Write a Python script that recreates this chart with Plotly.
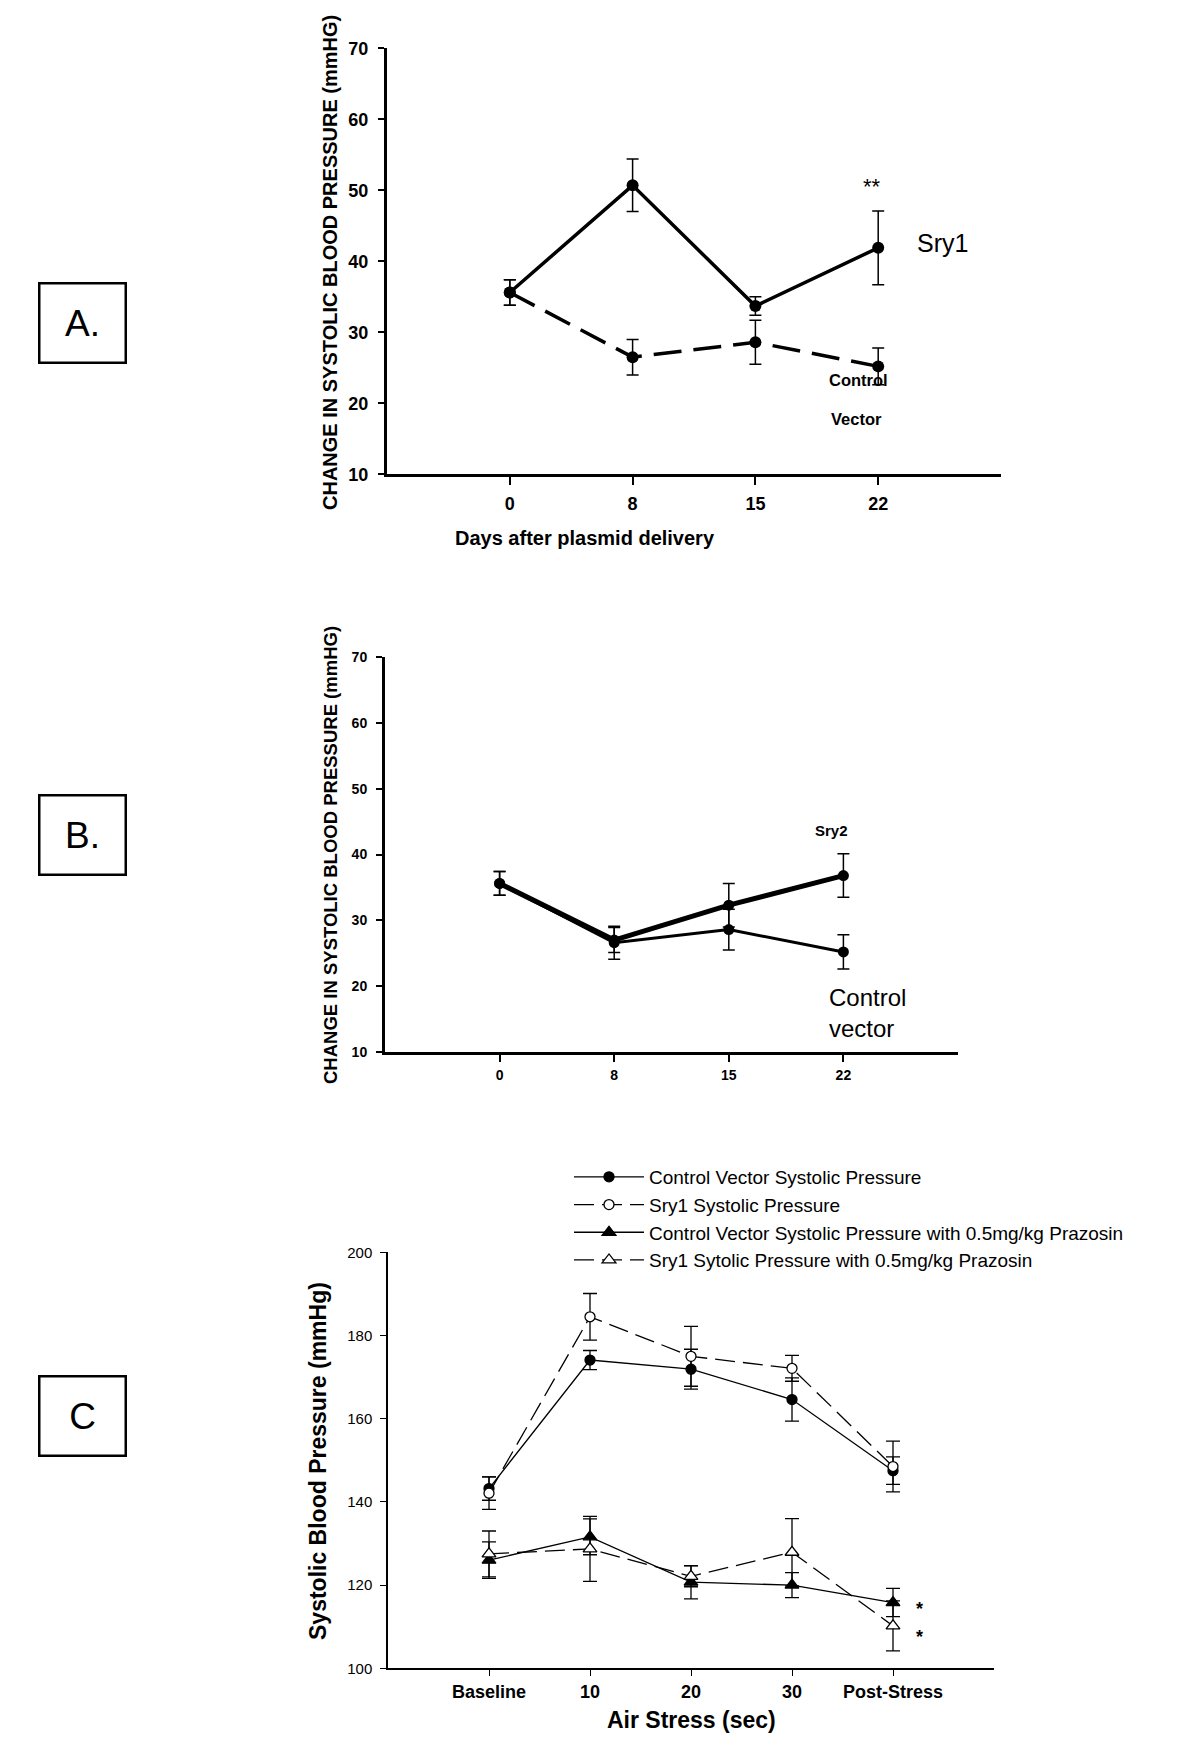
import plotly.graph_objects as go

W, H = 1200, 1764
OFF = 8  # page body margin in px: positions below are given in screenshot pixels

# ---------------- Data ----------------
# Panel A
days = ["0", "8", "15", "22"]
a_sry1 = [35.6, 50.7, 33.7, 41.9]
a_sry1_err = [1.8, 3.7, 1.3, 5.2]
a_ctrl = [35.6, 26.5, 28.6, 25.2]
a_ctrl_err = [1.8, 2.5, 3.1, 2.6]

# Panel B
b_sry2 = [35.6, 27.0, 32.3, 36.8]
b_sry2_err = [1.8, 1.9, 3.3, 3.3]
b_ctrl = [35.6, 26.6, 28.6, 25.2]
b_ctrl_err = [1.8, 2.5, 3.1, 2.6]

# Panel C
stress = ["Baseline", "10", "20", "30", "Post-Stress"]
c_ctrl = [143.2, 174.1, 171.9, 164.6, 147.5]
c_ctrl_err = [2.8, 2.3, 4.8, 5.2, 3.3]
c_sry1 = [142.1, 184.5, 175.0, 172.1, 148.5]
c_sry1_err = [3.9, 5.6, 7.2, 3.1, 6.1]
c_ctrl_pz = [126.0, 131.6, 120.7, 120.0, 115.8]
c_ctrl_pz_err = [4.4, 4.3, 4.0, 3.0, 3.4]
c_sry1_pz = [127.5, 128.7, 122.1, 127.9, 110.2]
c_sry1_pz_err = [5.5, 7.8, 2.5, 8.1, 6.0]

legend_names = [
    "Control Vector Systolic Pressure",
    "Sry1 Systolic Pressure",
    "Control Vector Systolic Pressure with 0.5mg/kg Prazosin",
    "Sry1 Sytolic Pressure with 0.5mg/kg Prazosin",
]

SANS = "Liberation Sans, Arial, Helvetica, sans-serif"

def px_x(p):
    return (p - OFF) / W

def px_y(p):
    return 1 - (p - OFF) / H

fig = go.Figure()

def err(arr, th=1.5, w=6):
    return dict(type="data", array=arr, visible=True, color="black", thickness=th, width=w)

# Panel A traces
fig.add_trace(go.Scatter(x=days, y=a_sry1, mode="lines+markers", xaxis="x", yaxis="y",
                         line=dict(color="black", width=3.5),
                         marker=dict(symbol="circle", size=12, color="black"),
                         error_y=err(a_sry1_err, 1.5, 6), showlegend=False))
fig.add_trace(go.Scatter(x=days, y=a_ctrl, mode="lines+markers", xaxis="x", yaxis="y",
                         line=dict(color="black", width=3.5, dash="28px,12px"),
                         marker=dict(symbol="circle", size=12, color="black"),
                         error_y=err(a_ctrl_err, 1.5, 6), showlegend=False))

# Panel B traces
fig.add_trace(go.Scatter(x=days, y=b_ctrl, mode="lines+markers", xaxis="x2", yaxis="y2",
                         line=dict(color="black", width=3),
                         marker=dict(symbol="circle", size=11, color="black"),
                         error_y=err(b_ctrl_err, 1.5, 6), showlegend=False))
fig.add_trace(go.Scatter(x=days, y=b_sry2, mode="lines+markers", xaxis="x2", yaxis="y2",
                         line=dict(color="black", width=5),
                         marker=dict(symbol="circle", size=11, color="black"),
                         error_y=err(b_sry2_err, 1.5, 6), showlegend=False))

# Panel C traces: (values, errors, dash, symbol, fill, size)
c_specs = [
    (c_ctrl, c_ctrl_err, "solid", "circle", "black", 10),
    (c_sry1, c_sry1_err, "20px,8px", "circle", "white", 10),
    (c_ctrl_pz, c_ctrl_pz_err, "solid", "triangle-up", "black", 12),
    (c_sry1_pz, c_sry1_pz_err, "20px,8px", "triangle-up", "white", 12),
]
for (vals, errs, dash, sym, fill, size), name in zip(c_specs, legend_names):
    fig.add_trace(go.Scatter(x=stress, y=vals, mode="lines+markers", xaxis="x3", yaxis="y3",
                             name=name,
                             line=dict(color="black", width=1.3, dash=dash),
                             marker=dict(symbol=sym, size=size, color=fill,
                                         line=dict(color="black", width=1.3)),
                             error_y=err(errs, 1.3, 7)))

def xaxis_common(domain, rng, size, anchor, ticklen=7, lw=3, standoff=4):
    return dict(domain=domain, type="category", range=rng, anchor=anchor, showline=True,
                linecolor="black", linewidth=lw, ticks="outside", ticklen=ticklen,
                tickwidth=lw * 0.6, tickcolor="black", showgrid=False, zeroline=False,
                automargin=False, ticklabelstandoff=standoff,
                tickfont=dict(family=SANS, size=size, color="black", weight="bold"))

def yaxis_common(domain, rng, dtick, size, anchor, ticklen=6, lw=3, bold=True, standoff=4):
    return dict(domain=domain, range=rng, dtick=dtick, anchor=anchor, showline=True,
                linecolor="black", linewidth=lw, ticks="outside", ticklen=ticklen,
                tickwidth=lw * 0.6, tickcolor="black", showgrid=False, zeroline=False,
                automargin=False, ticklabelstandoff=standoff,
                tickfont=dict(family=SANS, size=size, color="black",
                              weight="bold" if bold else "normal"))

fig.update_layout(
    width=W, height=H, margin=dict(l=0, r=0, t=0, b=0, autoexpand=False),
    paper_bgcolor="white", plot_bgcolor="white",
    xaxis=xaxis_common([px_x(387), px_x(1001)], [-1, 4], 18, "y", 8, 3, 3),
    yaxis=yaxis_common([px_y(474.3), px_y(48.3)], [10, 70], 10, 18, "x", 6, 3, True, 6),
    xaxis2=xaxis_common([px_x(385), px_x(958)], [-1, 4], 14, "y2", 7, 3, 1),
    yaxis2=yaxis_common([px_y(1052), px_y(657)], [10, 70], 10, 14, "x2", 6, 3, True, 6),
    xaxis3=xaxis_common([px_x(388), px_x(994)], [-1, 5], 18, "y3", 6, 1.5, 0),
    yaxis3=yaxis_common([px_y(1668.3), px_y(1252.3)], [100, 200], 20, 15, "x3", 6, 1.5, False, 5),
    legend=dict(x=px_x(569), y=px_y(1158), xanchor="left", yanchor="top",
                font=dict(family=SANS, size=19, color="black"), bgcolor="rgba(0,0,0,0)",
                tracegroupgap=0, itemwidth=70),
)

ann = []
def A(**kw):
    d = dict(showarrow=False, xanchor="center", yanchor="middle")
    d.update(kw)
    ann.append(d)

# axis titles
A(text="<b>CHANGE IN SYSTOLIC BLOOD PRESSURE (mmHG)</b>", xref="paper", yref="paper",
  x=px_x(330), y=px_y(263), textangle=-90, font=dict(family=SANS, size=20, color="black"))
A(text="<b>Days after plasmid delivery</b>", xref="paper", yref="paper",
  x=px_x(585), y=px_y(538), font=dict(family=SANS, size=20, color="black"))
A(text="<b>CHANGE IN SYSTOLIC BLOOD PRESSURE (mmHG)</b>", xref="paper", yref="paper",
  x=px_x(330), y=px_y(855), textangle=-90, font=dict(family=SANS, size=18.5, color="black"))
A(text="<b>Systolic Blood Pressure (mmHg)</b>", xref="paper", yref="paper",
  x=px_x(318), y=px_y(1461), textangle=-90, font=dict(family=SANS, size=23, color="black"))
A(text="<b>Air Stress (sec)</b>", xref="paper", yref="paper",
  x=px_x(692), y=px_y(1720), font=dict(family=SANS, size=23, color="black"))
# panel A labels
A(text="**", xref="x", yref="y", x=2.95, y=50.6, font=dict(family=SANS, size=22, color="black"))
A(text="Sry1", xref="x", yref="y", x=3.3, y=42.6, xanchor="left",
  font=dict(family=SANS, size=25, color="black"))
A(text="<b>Control</b>", xref="x", yref="y", x=2.84, y=23.3,
  font=dict(family=SANS, size=16.5, color="black"))
A(text="<b>Vector</b>", xref="x", yref="y", x=2.82, y=17.8,
  font=dict(family=SANS, size=16.5, color="black"))
# panel B labels
A(text="<b>Sry2</b>", xref="x2", yref="y2", x=2.9, y=43.6,
  font=dict(family=SANS, size=15, color="black"))
A(text="Control<br>vector", xref="x2", yref="y2", x=2.86, y=16.0, xanchor="left", align="left",
  font=dict(family=SANS, size=24, color="black"))
# panel C asterisks
A(text="<b>*</b>", xref="x3", yref="y3", x=4.26, y=114.3, font=dict(family=SANS, size=18, color="black"))
A(text="<b>*</b>", xref="x3", yref="y3", x=4.26, y=107.5, font=dict(family=SANS, size=18, color="black"))
# panel boxes
for label, cy in [("A.", 322.5), ("B.", 834.5), ("C", 1415.5)]:
    A(text=label, xref="paper", yref="paper", x=px_x(82), y=px_y(cy),
      width=84, height=77, bordercolor="black", borderwidth=2.5, borderpad=0,
      font=dict(family=SANS, size=37, color="black"))
fig.update_layout(annotations=ann)

fig.write_html("out.html")
